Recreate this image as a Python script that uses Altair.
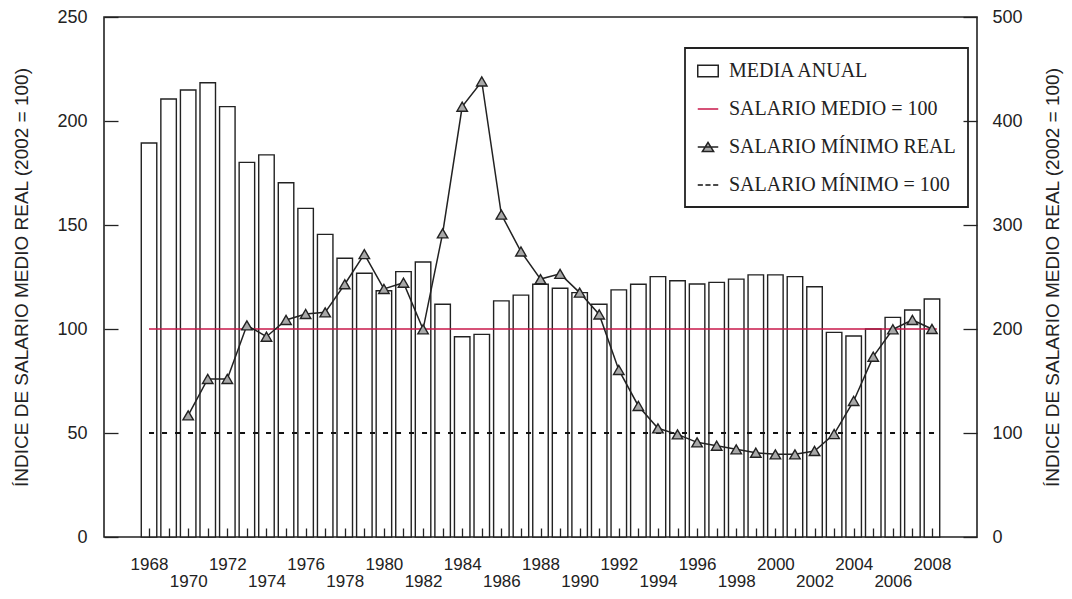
import altair as alt
import pandas as pd

# ---------------- data ----------------
years = list(range(1968, 2009))
media_anual = [189.4, 210.6, 214.9, 218.4, 206.9, 180.1, 183.7, 170.3, 158.0, 145.5,
               134.0, 126.8, 118.4, 127.6, 132.2, 111.9, 96.3, 97.4, 113.5, 116.3,
               121.5, 119.6, 117.5, 111.9, 118.8, 121.5, 125.2, 123.2, 121.6, 122.4,
               124.0, 126.0, 126.0, 125.2, 120.3, 98.4, 96.6, 100.0, 105.6, 109.1,
               114.4]
min_years = list(range(1970, 2009))
salario_minimo_real = [117, 152, 152, 203.5, 192.6, 208.7, 214.4, 216, 243, 272,
                       238.5, 244.5, 199.7, 292, 413.8, 438, 310, 274.5, 248, 253,
                       235, 214, 160.6, 126, 104.5, 98.7, 91, 87.8, 84.3, 81,
                       79.5, 79.5, 82.7, 99, 130.8, 173.4, 199.7, 208.7, 200]
series = ["MEDIA ANUAL", "SALARIO MEDIO = 100", "SALARIO MÍNIMO REAL", "SALARIO MÍNIMO = 100"]
ref_medio = [100]      # left scale
ref_minimo = [100]     # right scale
ref_from = [1968]
ref_to = [2008.25]
left_ticks = [0, 50, 100, 150, 200, 250]
right_ticks = [0, 100, 200, 300, 400, 500]
label_years = list(range(1968, 2009, 2))

# ---------------- styling ----------------
W, H = 873, 520
SANS = "Liberation Sans"
SERIF = "Liberation Serif"
INK = "#222222"
RED = "#c8174a"
TITLE = "ÍNDICE DE SALARIO MEDIO REAL (2002 = 100)"

bars_df = pd.DataFrame({"year": years, "media": media_anual})
line_df = pd.DataFrame({"year": min_years, "minimo": salario_minimo_real})
medio_df = pd.DataFrame({"x": ref_from, "x2": ref_to, "y": ref_medio})
minimo_df = pd.DataFrame({"x": ref_from, "x2": ref_to, "y": ref_minimo})
legend_df = pd.DataFrame({"serie": series})

xscale = alt.Scale(domain=[1965.955, 2010.045], nice=False, zero=False)
yL = alt.Scale(domain=[0, 250], nice=False, zero=True)
yR = alt.Scale(domain=[0, 500], nice=False, zero=True)

bars = alt.Chart(bars_df).mark_bar(
    fill="white", stroke=INK, strokeWidth=1.4, width=15.5
).encode(
    x=alt.X("year:Q", scale=xscale,
            axis=alt.Axis(values=label_years, format="d",
                          labelExpr="datum.value % 4 == 0 ? datum.label : ['', datum.label]",
                          ticks=False, domain=False, grid=False, title=None,
                          labelFontSize=17, labelPadding=19, labelLineHeight=17,
                          labelBaseline="top",
                          labelOverlap=False, labelFlush=False, labelBound=False)),
    y=alt.Y("media:Q", scale=yL,
            axis=alt.Axis(values=left_ticks, ticks=False, domain=False, grid=False,
                          labelPadding=17, title=TITLE, titleX=-83, titleY=H / 2,
                          titleAngle=270, titleBaseline="middle")),
)

medio = alt.Chart(medio_df).mark_rule(color=RED, strokeWidth=1.6).encode(
    x=alt.X("x:Q", scale=xscale,
            axis=alt.Axis(orient="top", offset=-H, values=years, tickSize=9,
                          labels=False, domain=False, grid=False, title=None, zindex=1)),
    x2="x2:Q",
    y=alt.Y("y:Q", scale=yL,
            axis=alt.Axis(orient="right", offset=-W, values=left_ticks, tickSize=14,
                          labels=False, domain=False, grid=False, title=None, zindex=1)),
)

minimo_ref = alt.Chart(minimo_df).mark_rule(color="#111111", strokeWidth=2.2,
                                            strokeDash=[5, 8]).encode(
    x=alt.X("x:Q", scale=xscale, axis=None),
    x2="x2:Q",
    y=alt.Y("y:Q", scale=yR,
            axis=alt.Axis(orient="left", offset=-W, values=right_ticks, tickSize=14,
                          labels=False, domain=False, grid=False, title=None, zindex=1)),
)

line = alt.Chart(line_df).mark_line(
    color=INK, strokeWidth=1.5,
    point=alt.OverlayMarkDef(shape="triangle-up", size=110, filled=True,
                             fill="#a8a8a8", stroke=INK, strokeWidth=1.4, opacity=1),
).encode(
    x=alt.X("year:Q", scale=xscale, axis=None),
    y=alt.Y("minimo:Q", scale=yR,
            axis=alt.Axis(orient="right", values=right_ticks, ticks=False, domain=False,
                          grid=False, labelPadding=15, title=TITLE, titleX=75,
                          titleY=H / 2, titleAngle=270, titleBaseline="middle")),
)

shapes = [
    "M-1,-0.55H1V0.55H-1Z",
    "M-1,0H1",
    "M-1,0H1M0,-0.45L0.55,0.45L-0.55,0.45Z",
    "M-1,0H-0.5M-0.25,0H0.25M0.5,0H1",
]
fills = ["white", "transparent", "#a8a8a8", "transparent"]
strokes = [INK, RED, INK, "#111111"]

leg = alt.Chart(legend_df).mark_point(opacity=0, filled=True).encode(
    shape=alt.Shape("serie:N", scale=alt.Scale(domain=series, range=shapes),
                    legend=alt.Legend(title=None)),
    fill=alt.Fill("serie:N", scale=alt.Scale(domain=series, range=fills),
                  legend=alt.Legend(title=None)),
    stroke=alt.Stroke("serie:N", scale=alt.Scale(domain=series, range=strokes),
                      legend=alt.Legend(title=None)),
)

chart = alt.layer(bars, medio, minimo_ref, line, leg).resolve_scale(
    y="independent"
).resolve_axis(
    x="independent", y="independent"
).properties(
    width=W, height=H,
    padding={"left": 96, "top": 9, "right": 87, "bottom": 54},
    autosize=alt.AutoSizeParams(type="none"),
).configure_view(
    stroke=INK, strokeWidth=1.6
).configure_axis(
    labelFont=SANS, labelFontSize=18, labelColor=INK,
    titleFont=SANS, titleFontSize=19, titleColor=INK, titleFontWeight="normal",
    tickColor=INK, tickWidth=1.3, grid=False,
).configure_legend(
    orient="none", legendX=581, legendY=31,
    strokeColor=INK, strokeWidth=1.8, fillColor="white", padding=12, rowPadding=17,
    labelFont=SERIF, labelFontSize=20, labelColor=INK, labelOffset=10, labelLimit=400,
    symbolSize=420, symbolStrokeWidth=1.5, symbolOpacity=1,
)

chart.save("out.html", embed_options={"renderer": "svg", "actions": False})
